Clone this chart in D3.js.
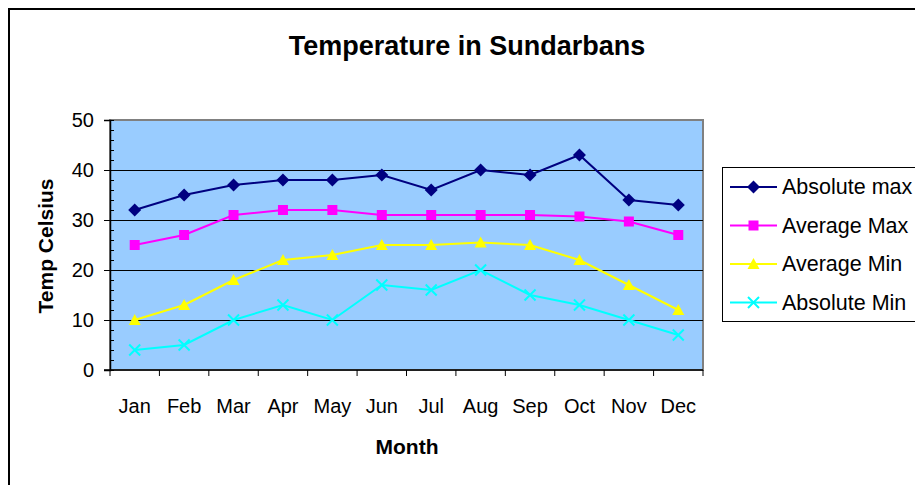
<!DOCTYPE html>
<html><head><meta charset="utf-8">
<script src="https://cdn.jsdelivr.net/npm/d3@7"></script>
<style>body{margin:0;background:#fff;} svg{display:block;font-family:"Liberation Sans",Arial,sans-serif;}</style>
</head><body>
<svg id="c" width="915" height="485"></svg>
<script>
const months = ["Jan","Feb","Mar","Apr","May","Jun","Jul","Aug","Sep","Oct","Nov","Dec"];
const absoluteMax = [32,35,37,38,38,39,36,40,39,43,34,33];
const averageMax  = [25,27,31,32,32,31,31,31,31,30.7,29.7,27];
const averageMin  = [10,13,18,22,23,25,25,25.5,25,22,17,12];
const absoluteMin = [4,5,10,13,10,17,16,20,15,13,10,7];
const yTicks = [0,10,20,30,40,50];
const seriesNames = ["Absolute max","Average Max","Average Min","Absolute Min"];
const seriesColors = ["#000080","#FF00FF","#FFFF00","#00FFFF"];
const seriesShapes = ["diamond","square","triangle","cross"];
const seriesValues = [absoluteMax, averageMax, averageMin, absoluteMin];

const svg = d3.select("#c");
// outer chart frame
svg.append("rect").attr("x",9).attr("y",9).attr("width",1000).attr("height",600)
  .attr("fill","#fff").attr("stroke","#000").attr("stroke-width",2);

const L=110, T=120, R=703, B=370;
const x = d3.scaleBand().domain(months).range([L,R]);
const y = d3.scaleLinear().domain([0,50]).range([B,T]);

// plot area
svg.append("rect").attr("x",L).attr("y",T).attr("width",R-L).attr("height",B-T)
  .attr("fill","#99CCFF").attr("stroke","#808080").attr("stroke-width",2);

// gridlines
svg.append("g").selectAll("line").data(yTicks.filter(d=>d>0&&d<50)).join("line")
  .attr("x1",L).attr("x2",R).attr("y1",d=>y(d)).attr("y2",d=>y(d))
  .attr("stroke","#000").attr("stroke-width",1).attr("shape-rendering","crispEdges");

// y axis
const yAxis = svg.append("g").attr("transform",`translate(${L},0)`)
  .call(d3.axisLeft(y).tickValues(yTicks).tickSize(6).tickPadding(10));
yAxis.select(".domain").attr("stroke","#000").attr("stroke-width",1.5);
yAxis.selectAll(".tick line").attr("stroke","#000");
yAxis.selectAll("text").attr("font-size",20).attr("fill","#000").attr("font-family","Liberation Sans, Arial, sans-serif");
// minor ticks inside
svg.append("g").selectAll("line").data(d3.range(0,51,2)).join("line")
  .attr("x1",L).attr("x2",L+4).attr("y1",d=>y(d)).attr("y2",d=>y(d))
  .attr("stroke","#000").attr("stroke-width",1).attr("shape-rendering","crispEdges");

// x axis
const xb = svg.append("g").attr("transform",`translate(0,${B})`);
xb.append("line").attr("x1",L-6).attr("x2",R).attr("stroke","#000").attr("stroke-width",1.5);
xb.selectAll("line.t").data(d3.range(0,13)).join("line").attr("class","t")
  .attr("x1",i=>L+i*x.bandwidth()).attr("x2",i=>L+i*x.bandwidth())
  .attr("y1",0).attr("y2",6).attr("stroke","#000");
xb.selectAll("text").data(months).join("text")
  .attr("x",d=>x(d)+x.bandwidth()/2).attr("y",43).attr("text-anchor","middle")
  .attr("font-size",20).attr("fill","#000").text(d=>d);

// axis titles
svg.append("text").attr("x",467).attr("y",55).attr("text-anchor","middle")
  .attr("font-size",27).attr("font-weight","bold").text("Temperature in Sundarbans");
svg.append("text").attr("x",407).attr("y",454).attr("text-anchor","middle")
  .attr("font-size",21).attr("font-weight","bold").text("Month");
svg.append("text").attr("transform","translate(53,246) rotate(-90)").attr("text-anchor","middle")
  .attr("font-size",21).attr("font-weight","bold").text("Temp Celsius");

function marker(g, shape, color, cx, cy){
  if(shape==="diamond"){
    g.append("path").attr("d",`M${cx},${cy-6.5}L${cx+6.5},${cy}L${cx},${cy+6.5}L${cx-6.5},${cy}Z`).attr("fill",color);
  } else if(shape==="square"){
    g.append("rect").attr("x",cx-5).attr("y",cy-5).attr("width",10).attr("height",10).attr("fill",color);
  } else if(shape==="triangle"){
    g.append("path").attr("d",`M${cx},${cy-6}L${cx+6},${cy+5}L${cx-6},${cy+5}Z`).attr("fill",color);
  } else {
    g.append("path").attr("d",`M${cx-5.5},${cy-5.5}L${cx+5.5},${cy+5.5}M${cx-5.5},${cy+5.5}L${cx+5.5},${cy-5.5}`)
      .attr("stroke",color).attr("stroke-width",2).attr("fill","none");
  }
}

const line = d3.line().x((d,i)=>x(months[i])+x.bandwidth()/2).y(d=>y(d));
seriesValues.forEach((vals,si)=>{
  const g = svg.append("g");
  g.append("path").attr("d",line(vals)).attr("fill","none")
    .attr("stroke",seriesColors[si]).attr("stroke-width",2);
  vals.forEach((v,i)=>marker(g, seriesShapes[si], seriesColors[si], x(months[i])+x.bandwidth()/2, y(v)));
});

// legend
const lg = svg.append("g");
lg.append("rect").attr("x",722.5).attr("y",167.5).attr("width",300).attr("height",154)
  .attr("fill","#fff").attr("stroke","#000").attr("stroke-width",1);
seriesNames.forEach((n,i)=>{
  const cy = 187 + i*38.5;
  lg.append("line").attr("x1",730).attr("x2",777).attr("y1",cy).attr("y2",cy)
    .attr("stroke",seriesColors[i]).attr("stroke-width",2);
  marker(lg, seriesShapes[i], seriesColors[i], 753.5, cy);
  lg.append("text").attr("x",782).attr("y",cy+7).attr("font-size",21.5).text(n);
});
</script>
</body></html>
